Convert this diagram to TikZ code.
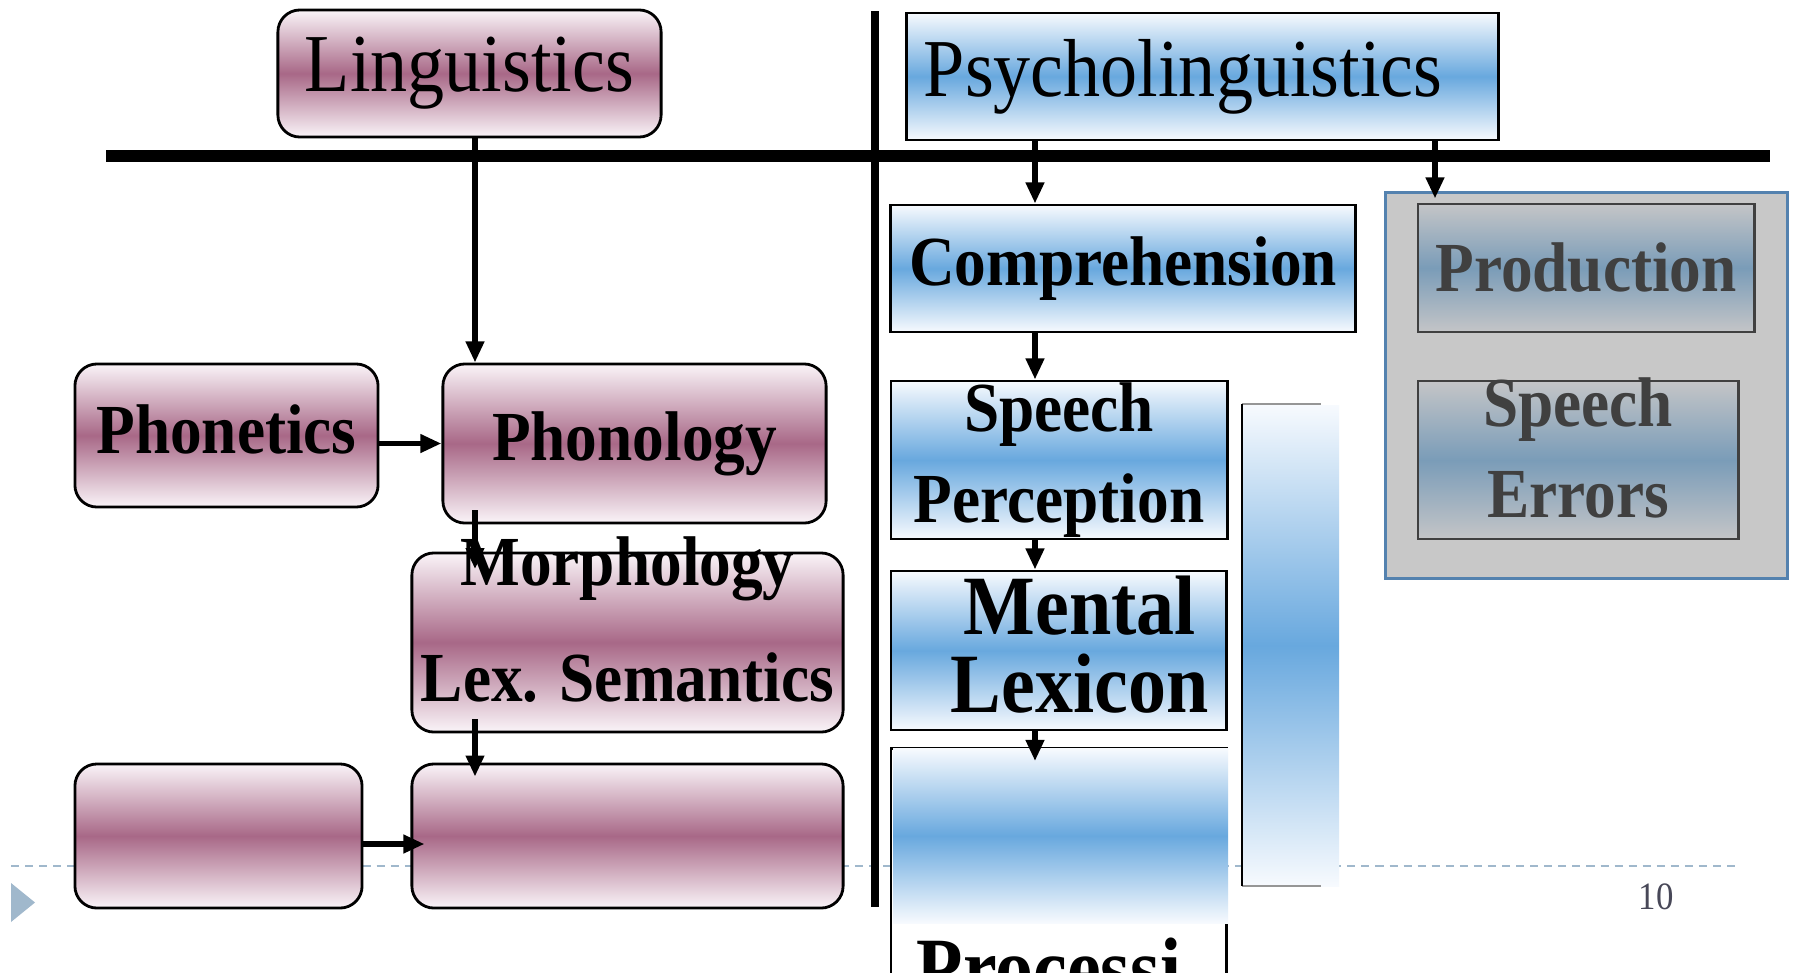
\documentclass[tikz,border=0pt]{standalone}
\usepackage{fontspec}
\setmainfont{Liberation Serif}[FakeStretch=0.9]
\usepackage{tikz}
\usetikzlibrary{arrows.meta,calc}
\usepackage{xcolor}
\definecolor{mauvemid}{RGB}{168,104,135}
\definecolor{mauvelight}{RGB}{250,244,248}
\definecolor{bluemid}{RGB}{104,168,222}
\definecolor{bluelight}{RGB}{247,250,254}
\definecolor{graymid}{RGB}{122,156,184}
\definecolor{graylight}{RGB}{196,197,199}
\definecolor{groupfill}{RGB}{200,200,200}
\definecolor{groupline}{RGB}{84,130,175}
\definecolor{prodtext}{RGB}{64,64,64}
\definecolor{footblue}{RGB}{160,184,204}
\definecolor{pagegray}{RGB}{72,72,88}
\definecolor{bargray}{RGB}{150,150,150}
\newcommand\titlefont{\fontsize{23.4}{28}\selectfont}
\newcommand\boxfont{\fontsize{20}{26}\selectfont\bfseries}
\newcommand\bigboxfont{\fontsize{24}{22}\selectfont\bfseries}
\tikzset{
  mauvebox/.style={draw=black, line width=0.8pt, rounded corners=0.22cm,
                   top color=mauvelight, bottom color=mauvelight, middle color=mauvemid,
                   align=center, font=\boxfont, inner ysep=0pt},
  bluebox/.style={draw=black, line width=0.8pt,
                  top color=bluelight, bottom color=bluelight, middle color=bluemid,
                  align=center, font=\boxfont, inner ysep=0pt},
  blueshade/.style={top color=bluelight, bottom color=bluelight, middle color=bluemid},
  graybox/.style={draw=prodtext, line width=0.8pt,
                  top color=graylight, bottom color=graylight, middle color=graymid,
                  align=center, font=\boxfont, text=prodtext, inner ysep=0pt},
  groupbox/.style={draw=groupline, line width=0.8pt, fill=groupfill},
  textonly/.style={align=center, inner sep=0pt},
  arrow/.style={-{Triangle[length=6pt,width=5pt]}, line width=1.5pt},
  divider/.style={line width=3.4pt},
  footline/.style={footblue, line width=0.6pt, dash pattern=on 2.3pt off 1.7pt},
  pagenum/.style={font=\fontsize{11}{13}\selectfont, text=pagegray, inner sep=0pt},
}
\begin{document}
\begin{tikzpicture}[x=0.01cm, y=-0.01cm]
\clip (0,0) rectangle (1793,972);
\fill[white] (0,0) rectangle (1793,972);

% footer
\draw[footline] (11,866) -- (1738,866);
\fill[footblue] (11,883) -- (35,902.5) -- (11,922) -- cycle;
\node[pagenum] (page) at (1656,896.5) {10};

% side bar
\shade[blueshade] (1243,405) rectangle (1339,886);
\draw[bargray, line width=0.6pt] (1242,404) -- (1321,404);
\draw[bargray, line width=0.6pt] (1242,886) -- (1321,886);
\draw[black, line width=0.5pt] (1242,404) -- (1242,886);

% linguistics side
\node[mauvebox, font=\titlefont, minimum width=3.83cm, minimum height=1.27cm] (ling) at (469.5,73.5) {Linguistics};
\node[mauvebox, minimum width=3.03cm, minimum height=1.43cm] (phonetics) at (226.5,435.5) {Phonetics\strut};
\node[mauvebox, minimum width=3.83cm, minimum height=1.59cm] (phonology) at (634.5,443.5) {Phonology};
\node[mauvebox, minimum width=4.31cm, minimum height=1.79cm] (morph) at (627.5,642.5) {};
\node[mauvebox, minimum width=2.87cm, minimum height=1.44cm] (botleft) at (218.5,836) {};
\node[mauvebox, minimum width=4.31cm, minimum height=1.44cm] (botright) at (627.5,836) {};

% psycholinguistics side
\node[bluebox, font=\titlefont, minimum height=1.27cm, text width=5.57cm, inner xsep=0.17cm, align=left] (psy) at (1202.5,76.5) {Psycholinguistics};
\node[bluebox, minimum width=4.64cm, minimum height=1.27cm] (compr) at (1123,268.5) {Comprehension};
\node[bluebox, minimum width=3.36cm, minimum height=1.58cm] (perc) at (1059,460) {Speech\\Perception};
\node[bluebox, minimum width=3.35cm, minimum height=1.59cm] (lex) at (1058.5,650.5) {};
\node[draw=black, line width=0.8pt, minimum width=3.35cm, minimum height=3.5cm, anchor=north] (proc) at (1058.5,747) {};
\shade[blueshade] (893,748.5) rectangle (1228,923);

\node[groupbox, minimum width=4.01cm, minimum height=3.85cm] (prodgrp) at (1586.5,385.5) {};
\node[graybox, minimum width=3.36cm, minimum height=1.28cm] (prod) at (1586,268) {Production};
\node[graybox, minimum width=3.20cm, minimum height=1.58cm] (errors) at (1578,460) {};

% dividers
\draw[divider] (106,156) -- (1770,156);
\draw[line width=2pt] (875,11) -- (875,907);

% connectors
\coordinate (colA) at (475,0);
\coordinate (colB) at (1035,0);
\coordinate (colC) at (1435,0);
\coordinate (rowB) at (0,844);
\draw[arrow] (ling.south -| colA) -- (phonology.north -| colA);
\draw[arrow] (phonetics.east |- phonology.west) -- (phonology.west);
\draw[arrow, shorten <=-4pt, shorten >=-5pt] (phonology.south -| colA) -- (morph.north -| colA);
\draw[arrow, shorten <=-4pt, shorten >=-4pt] (morph.south -| colA) -- (botright.north -| colA);
\draw[arrow, shorten >=-4pt] (botleft.east |- rowB) -- (botright.west |- rowB);
\draw[arrow] (psy.south -| colB) -- (compr.north -| colB);
\draw[arrow, shorten >=-2pt] (psy.south -| colC) -- (prodgrp.north -| colC);
\foreach \a/\b in {compr/perc, perc/lex}
  \draw[arrow] (\a.south -| colB) -- (\b.north -| colB);
\draw[arrow, shorten >=-4pt] (lex.south -| colB) -- (proc.north -| colB);

% texts over boxes
\node[textonly, font=\boxfont, text=prodtext] (errtext) at ([yshift=3.4pt]errors.center) {Speech\\Errors};
\node[textonly, font=\fontsize{20}{33}\selectfont\bfseries] (morphtext) at (627.5,620) {Morphology\\Lex. Semantics};
\node[textonly, font=\bigboxfont] (lextext) at ([xshift=6pt, yshift=1.7pt]lex.center) {Mental\\Lexicon};
\node[textonly, font=\bigboxfont, anchor=base west] (proctext) at (916,996) {Processi};
\end{tikzpicture}
\end{document}
